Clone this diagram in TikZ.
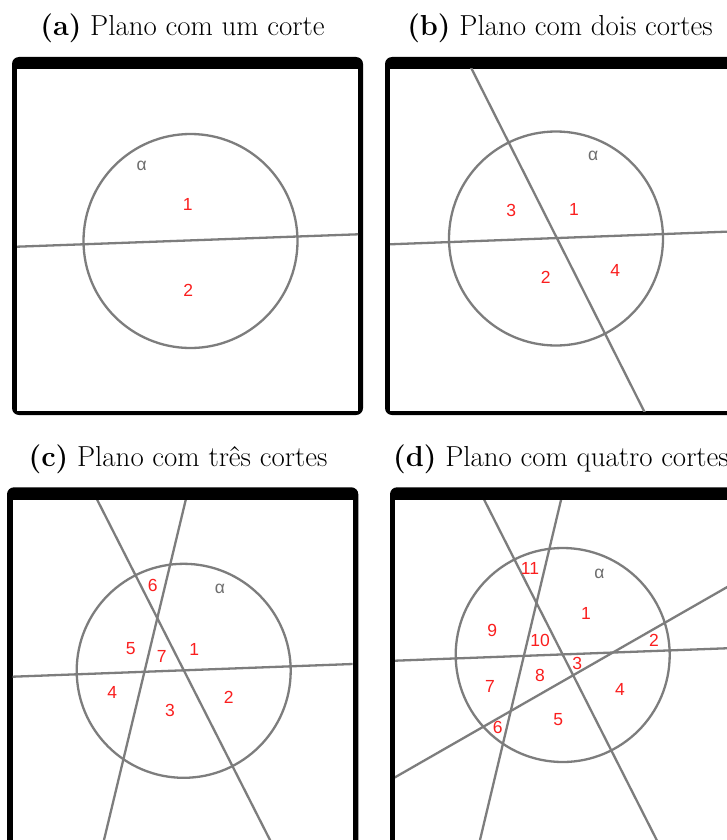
\documentclass[tikz,border=0pt]{standalone}
\usepackage{fontspec}
\newfontfamily\labfont{Liberation Sans}
\definecolor{cutgray}{RGB}{125,125,125}
\definecolor{regred}{RGB}{250,30,30}
\definecolor{alphagray}{RGB}{110,110,110}
\begin{document}
\begin{tikzpicture}[x=1pt,y=-1pt,
  cut/.style={draw=cutgray,line width=2.3pt,shorten <=-12pt,shorten >=-12pt},
  circ/.style={draw=cutgray,line width=2.3pt},
  reg/.style={font=\labfont\fontsize{17.5}{17.5}\selectfont,text=regred,inner sep=0pt},
  alph/.style={font=\labfont\fontsize{17.5}{17.5}\selectfont,text=alphagray,inner sep=0pt},
  ttl/.style={font=\fontsize{28.9}{34}\selectfont,inner sep=0pt,anchor=base},
  outerframe/.style={fill=black,rounded corners=7pt},
  innerframe/.style={fill=white}]
\useasboundingbox (0,0) rectangle (726,840);

% ---------- titles ----------
\node[ttl] (ta) at (182.5,36) {\textbf{(a)} Plano com um corte};
\node[ttl] (tb) at (560,36) {\textbf{(b)} Plano com dois cortes};
\node[ttl] (tc) at (178,466.5) {\textbf{(c)} Plano com três cortes};
\node[ttl,anchor=base west] (td) at (393,466.5) {\textbf{(d)} Plano com quatro cortes};

% ---------- panel (a) ----------
\fill[outerframe] (12,57) rectangle (363,415);
\fill[innerframe] (17,69) rectangle (358,411);
\begin{scope}
  \clip (17,69) rectangle (358,411);
  \coordinate (a-l1s) at (17,246.7);
  \coordinate (a-l1e) at (358,234.3);
  \draw[cut] (a-l1s) -- (a-l1e);
  \draw[circ] (190.5,241) circle[radius=107pt];
\end{scope}
\node[alph] (a-al) at (141.7,166) {α};
\node[reg] (a-r1) at (187.7,204) {1};
\node[reg] (a-r2) at (188.3,290.7) {2};

% ---------- panel (b) ----------
\fill[outerframe] (385,57) rectangle (745,415);
\fill[innerframe] (390,69) rectangle (740,411);
\begin{scope}
  \clip (390,69) rectangle (740,411);
  \coordinate (b-l1s) at (390,244.3);
  \coordinate (b-l1e) at (726,231.7);
  \coordinate (b-l2s) at (471.7,69);
  \coordinate (b-l2e) at (644,411);
  \draw[cut] (b-l1s) -- (b-l1e);
  \draw[cut] (b-l2s) -- (b-l2e);
  \draw[circ] (556,238.5) circle[radius=107pt];
\end{scope}
\node[alph] (b-al) at (593.3,156) {α};
\node[reg] (b-r3) at (511.3,210) {3};
\node[reg] (b-r1) at (574,209) {1};
\node[reg] (b-r2) at (545.7,277.3) {2};
\node[reg] (b-r4) at (615.3,270) {4};

% ---------- panel (c) ----------
\fill[outerframe] (7,487.3) rectangle (358.3,852);
\fill[innerframe] (12.7,500) rectangle (352.7,848);
\begin{scope}
  \clip (12.7,500) rectangle (352.7,848);
  \coordinate (c-l1s) at (12.7,676.7);
  \coordinate (c-l1e) at (352.7,664);
  \coordinate (c-l2s) at (97.3,500);
  \coordinate (c-l2e) at (270,840);
  \coordinate (c-l3s) at (185.7,500);
  \coordinate (c-l3e) at (104,840);
  \draw[cut] (c-l1s) -- (c-l1e);
  \draw[cut] (c-l2s) -- (c-l2e);
  \draw[cut] (c-l3s) -- (c-l3e);
  \draw[circ] (183.7,670.8) circle[radius=107pt];
\end{scope}
\node[alph] (c-al) at (220,589) {α};
\node[reg] (c-r6) at (152.7,585) {6};
\node[reg] (c-r5) at (130.7,649) {5};
\node[reg] (c-r7) at (161.7,656) {7};
\node[reg] (c-r1) at (194.3,649.3) {1};
\node[reg] (c-r4) at (112.3,692.3) {4};
\node[reg] (c-r3) at (170,710.7) {3};
\node[reg] (c-r2) at (228.7,697.7) {2};

% ---------- panel (d) ----------
\fill[outerframe] (390,487.3) rectangle (745,852);
\fill[innerframe] (395,500) rectangle (740,848);
\begin{scope}
  \clip (395,500) rectangle (740,848);
  \coordinate (d-l1s) at (395,660.7);
  \coordinate (d-l1e) at (726,648.3);
  \coordinate (d-l2s) at (484.3,500);
  \coordinate (d-l2e) at (656.7,840);
  \coordinate (d-l3s) at (561,500);
  \coordinate (d-l3e) at (480,840);
  \coordinate (d-l4s) at (395,777.3);
  \coordinate (d-l4e) at (726,587.7);
  \draw[cut] (d-l1s) -- (d-l1e);
  \draw[cut] (d-l2s) -- (d-l2e);
  \draw[cut] (d-l3s) -- (d-l3e);
  \draw[cut] (d-l4s) -- (d-l4e);
  \draw[circ] (562.7,655) circle[radius=107pt];
\end{scope}
\node[alph] (d-al) at (599.3,574) {α};
\node[reg] (d-r11) at (530,568.3) {11};
\node[reg] (d-r1) at (586,613.3) {1};
\node[reg] (d-r9) at (492.3,630) {9};
\node[reg] (d-r10) at (540,640.7) {10};
\node[reg] (d-r2) at (654,640.7) {2};
\node[reg] (d-r3) at (577.3,663.3) {3};
\node[reg] (d-r8) at (540,675) {8};
\node[reg] (d-r7) at (490,686) {7};
\node[reg] (d-r4) at (620,689.3) {4};
\node[reg] (d-r5) at (558.3,720) {5};
\node[reg] (d-r6) at (497.7,727.7) {6};
\end{tikzpicture}
\end{document}
